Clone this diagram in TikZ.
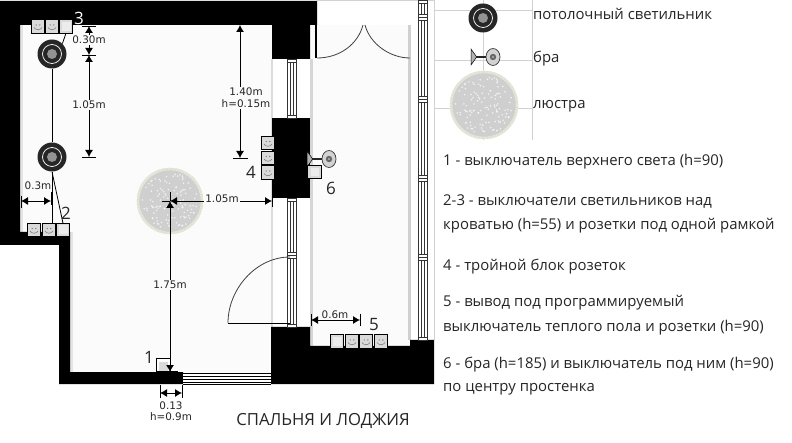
\documentclass[tikz,border=0pt]{standalone}
\usepackage{fontspec}
\setmainfont{Open Sans}
\newfontfamily\dimfont{DejaVu Sans}
\usetikzlibrary{arrows.meta,shapes.geometric}
\definecolor{floorc}{HTML}{FBFBFB}
\definecolor{shade}{HTML}{C4C4C4}
\definecolor{gridc}{HTML}{D2D2D2}
\definecolor{plate}{HTML}{DADADA}
\definecolor{rimc}{HTML}{E6E6D8}
\definecolor{chanc}{HTML}{CFCFCF}
\tikzset{
  wall/.style={fill=black,draw=none},
  dimline/.style={black,line width=0.9pt},
  dimboth/.style={black,line width=0.9pt,{Latex[length=7pt,width=8pt]}-{Latex[length=7pt,width=8pt]}},
  wire/.style={black,line width=0.8pt},
  dimtext/.style={font=\dimfont\fontsize{10.4}{11}\selectfont,text=black!85,inner sep=1pt,align=center},
  dimtextw/.style={dimtext,fill=floorc},
  numlabel/.style={font=\fontsize{17}{19}\selectfont,text=black!85,inner sep=0pt},
  legend/.style={font=\fontsize{14.9}{16}\selectfont,text=black!85,anchor=west,inner sep=0pt},
  sockbox/.style={draw=black,line width=0.7pt,fill=plate,minimum size=13.5pt,inner sep=0pt,outer sep=0pt},
  title/.style={font=\fontsize{16.7}{18}\selectfont,text=black!85,inner sep=0pt},
  door/.style={draw=black!75,line width=0.8pt},
  gridline/.style={gridc,line width=0.7pt}
}
\newcommand{\plug}[3]{\node[sockbox] (#1) at (#2,#3) {};
  \draw[black!55,line width=0.5pt] (#2-4,#3+1) .. controls (#2-2,#3+4) and (#2+2,#3+4) .. (#2+4,#3+1);
  \fill[black!55] (#2-1.8,#3-1.5) circle (0.7) (#2+1.8,#3-1.5) circle (0.7);}
\newcommand{\blank}[3]{\node[sockbox] (#1) at (#2,#3) {};
  \fill[white!85!gray] (#2-4.5,#3-4.5) rectangle (#2+4.5,#3+4.5);}
\newcommand{\lamp}[3]{\node[circle,fill=black!85,minimum size=29pt,inner sep=0pt] (#1) at (#2,#3) {};
  \draw[white,line width=0.7pt] (#2,#3) circle (9.5);
  \fill[gray!85] (#2,#3) circle (5);}
\newcommand{\chand}[4]{\node[circle,fill=chanc,minimum size=#4pt*2,inner sep=0pt] (#1) at (#2,#3) {};
  \draw[rimc,line width=2.6pt,dash pattern=on 2.2pt off 0.5pt] (#2,#3) circle (#4-1);
  \pgfmathsetseed{7}
  \foreach \k in {1,...,120}{
    \pgfmathsetmacro{\ang}{rnd*360}\pgfmathsetmacro{\rad}{sqrt(rnd)*(#4-5)}
    \fill[white,opacity=0.7] (#2,#3) ++(\ang:\rad) circle (0.9);}
  }
\newcommand{\bra}[3]{\draw[black!85,line width=1.4pt] (#2-17,#3) -- (#2,#3);
  \fill[gray!60,draw=black,line width=0.5pt] (#2-22,#3-8) -- (#2-17,#3-1) -- (#2-17,#3+1) -- (#2-22,#3+8) -- cycle;
  \node[draw=black!80,fill=gray!35,ellipse,minimum width=14pt,minimum height=17pt,inner sep=0pt,line width=0.7pt] (#1) at (#2,#3) {};
  \fill[black!60] (#2,#3) circle (3.2);\fill[gray!60] (#2,#3) circle (1.2);}
\newcommand{\vwin}[4]{\fill[white] (#1,#3) rectangle (#2,#4);
  \draw[black!80,line width=0.6pt] (#1,#3) rectangle (#2,#4);
  \pgfmathsetmacro{\wa}{#1+(#2-#1)/3}\pgfmathsetmacro{\wb}{#1+2*(#2-#1)/3}
  \draw[black!80,line width=0.6pt] (\wa,#3+3) -- (\wa,#4-3) (\wb,#3+3) -- (\wb,#4-3) (#1,#3+3) -- (#2,#3+3) (#1,#4-3) -- (#2,#4-3);}
\begin{document}
\begin{tikzpicture}[x=1pt,y=-1pt]
\useasboundingbox (0,0) rectangle (792,443);
\fill[white] (0,0) rectangle (792,443);
% floors
\fill[floorc] (20,25) -- (272,25) -- (272,372) -- (70,372) -- (70,232) -- (20,232) -- cycle;
\fill[floorc] (311,25) rectangle (410,346);
% soft shades on the wall edges
\fill[shade!45] (19,25) rectangle (23,232);
\fill[shade!45] (70,232) rectangle (73,372);
\fill[shade!60] (271,59) rectangle (273,327);
\fill[shade!70] (310,59) rectangle (313,346);
\fill[shade!80] (408,25) rectangle (411,340);
\draw[gridline,shade] (317,0.5) -- (434,0.5);
\draw[gridline,shade] (434,0) -- (434,340);
% walls
\fill[wall] (0,1) -- (317,1) -- (317,25) -- (310,25) -- (310,59) -- (272,59) -- (272,25) -- (20,25) -- (20,232) -- (70,232) -- (70,372) -- (183,372) -- (183,384) -- (59,384) -- (59,245) -- (0,245) -- cycle;
\fill[wall] (272,118) rectangle (310,198);
\fill[wall] (271,327) -- (310,327) -- (310,346) -- (410,346) -- (410,340) -- (434,340) -- (434,384) -- (271,384) -- cycle;
\fill[wall] (315,25) rectangle (317,58);
% windows
\vwin{287}{296}{59}{118}
\vwin{287}{296}{198}{255}
\vwin{287}{296}{255}{327}
\vwin{418}{427}{0}{17}
\vwin{418}{427}{17}{99}
\vwin{418}{427}{99}{178}
\vwin{418}{427}{178}{257}
\vwin{418}{427}{257}{340}
\fill[white] (183,373) rectangle (271,384);
\foreach \wy in {373,376,379,382,384}{\draw[black,line width=0.6pt] (183,\wy) -- (271,\wy);}
% doors
\draw[door] (317,58) .. controls (340,58) and (358,44) .. (363,25);
\draw[door] (365,25) .. controls (370,44) and (390,58) .. (410,58);
\draw[door] (228,323) .. controls (228,289) and (256,257) .. (290,257);
\draw[black,line width=0.9pt] (228,323.5) -- (290,323.5);
% legend guides
\draw[gridline] (483,0) -- (483,140) (434,10) -- (532,10) (434,60) -- (532,60) (434,108) -- (532,108) (532,0) -- (532,140);
% fixtures
\lamp{lampa}{52}{54}
\lamp{lampb}{52}{157}
\chand{chan}{170}{201}{33}
\plug{ta}{38}{26.5}\plug{tb}{52}{26.5}\blank{tc}{66}{26.5}
\plug{ba}{34}{230}\plug{bb}{49}{230}\blank{bc}{63}{230}
\plug{ra}{268}{143}\plug{rb}{268}{158}\plug{rc}{268}{172.5}
\blank{sf}{337}{341.5}\plug{sa}{352}{341.5}\plug{sb}{366}{341.5}\plug{sc}{381}{341.5}
\node[sockbox,fill=white] (swone) at (163.5,365) {};
\fill[plate] (159,362) rectangle (168,371);
\bra{brasix}{329}{159}
\node[sockbox] (swsix) at (314.5,172) {};
\fill[white!85!gray] (310.5,168) rectangle (318.5,176);
% wires
\draw[wire] (lampa) -- (lampb);
\draw[wire] (lampb.south) -- (bb.north -| lampb.south);
\draw[wire] (lampb.south) -- (bc.north);
\draw[wire] (lampa.north east) -- (tc.south);
% dimensions
\coordinate (topa) at (89,26);
\coordinate (topb) at (89,55);
\coordinate (topc) at (89,157);
\draw[dimline] (82,26) -- (96,26) (82,55) -- (96,55) (82,157) -- (96,157);
\draw[dimboth] (topa) -- (topb);
\draw[dimboth] (topb) -- (topc);
\node[dimtextw] (dimthirty) at (89,40) {0.30m};
\node[dimtextw] (dimoneoh) at (89,105) {1.05m};
\coordinate (lefta) at (21,201);
\coordinate (leftb) at (51,201);
\draw[dimline] (21,196) -- (21,208) (51,192) -- (51,205);
\draw[dimboth] (lefta) -- (leftb);
\node[dimtext] (dimleft) at (38,186) {0.3m};
\coordinate (chanh) at (162,201);
\coordinate (wallh) at (272,201);
\draw[dimline] (272,196) -- (272,207);
\draw[dimboth] (chan.center) -- (wallh);
\draw[dimline] (chanh) -- (chan.center);
\node[dimtextw] (dimchan) at (222,199) {1.05m};
\coordinate (floorv) at (170,372);
\draw[dimline] (162,371) -- (178,371);
\draw[dimboth] (floorv) -- (chan.center);
\draw[dimline] (chan.center) -- (170,192);
\node[dimtextw] (dimfloor) at (170,285) {1.75m};
\coordinate (righta) at (240,25);
\coordinate (rightb) at (240,158);
\draw[dimline] (233,158) -- (248,158);
\draw[dimboth] (righta) -- (rightb);
\node[dimtextw] (dimright) at (246,98) {1.40m\\[1pt]h=0.15m};
\coordinate (sma) at (160,393);
\coordinate (smb) at (182,393);
\draw[dimline] (160,385) -- (160,398) (182,385) -- (182,398);
\draw[dimboth] (sma) -- (smb);
\node[dimtext] (dimsmall) at (171,411) {0.13\\[0pt]h=0.9m};
\coordinate (loga) at (311,320);
\coordinate (logb) at (360,320);
\draw[dimline] (311,314) -- (311,326) (360,314) -- (360,326);
\draw[dimboth] (loga) -- (logb);
\node[dimtext,fill=floorc] (dimlog) at (335,315) {0.6m};
% numbers
\node[numlabel,text=white] (numthree) at (79,18) {3};
\node[numlabel] (numtwo) at (66,213) {2};
\node[numlabel] (numone) at (149,357) {1};
\node[numlabel] (numfour) at (251,172) {4};
\node[numlabel] (numfive) at (374,325) {5};
\node[numlabel] (numsix) at (331,188) {6};
% legend
\lamp{leglamp}{483}{18}
\bra{legbra}{493}{57}
\chand{legchan}{484}{105}{34}
\node[legend] (lega) at (533,14) {потолочный светильник};
\node[legend] (legb) at (533,59) {бра};
\node[legend] (legc) at (533,106) {люстра};
\node[legend] (ta1) at (443,162) {1 - выключатель верхнего света (h=90)};
\node[legend] (ta2) at (443,201) {2-3 - выключатели светильников над};
\node[legend] (ta3) at (443,226) {кроватью (h=55) и розетки под одной рамкой};
\node[legend] (ta4) at (443,267) {4 - тройной блок розеток};
\node[legend] (ta5) at (443,303) {5 - вывод под программируемый};
\node[legend] (ta6) at (443,328) {выключатель теплого пола и розетки (h=90)};
\node[legend] (ta7) at (443,365) {6 - бра (h=185) и выключатель под ним (h=90)};
\node[legend] (ta8) at (443,389) {по центру простенка};
\node[title] (cap) at (323,421) {СПАЛЬНЯ И ЛОДЖИЯ};
\end{tikzpicture}
\end{document}
